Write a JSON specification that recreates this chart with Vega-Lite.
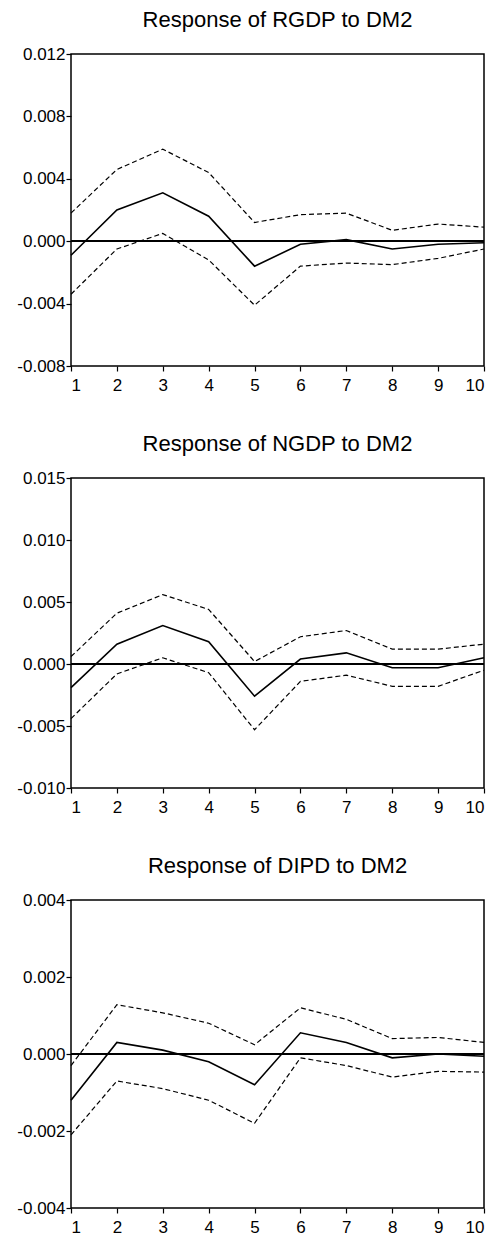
{
  "$schema": "https://vega.github.io/schema/vega-lite/v6.json",
  "padding": {"left": 16, "top": 8, "right": 0, "bottom": 0},
  "spacing": 38,
  "background": "white",
  "config": {
    "font": "Liberation Sans",
    "view": {"stroke": "black", "strokeWidth": 1.5},
    "axis": {
      "grid": false, "domain": false, "ticks": true, "tickColor": "black", "tickSize": 5, "tickWidth": 1.2,
      "labelColor": "black", "labelFontSize": 17, "labelFont": "Liberation Sans", "title": null
    },
    "axisX": {"labelPadding": 6},
    "axisY": {"labelPadding": 1},
    "title": {"fontSize": 22, "fontWeight": "normal", "color": "black", "font": "Liberation Sans", "anchor": "middle", "frame": "group", "offset": 13}
  },
  "datasets": {
    "irf": [
      {"panel": "RGDP", "step": 1, "series": "response", "value": -0.0009},
      {"panel": "RGDP", "step": 2, "series": "response", "value": 0.0020},
      {"panel": "RGDP", "step": 3, "series": "response", "value": 0.0031},
      {"panel": "RGDP", "step": 4, "series": "response", "value": 0.0016},
      {"panel": "RGDP", "step": 5, "series": "response", "value": -0.0016},
      {"panel": "RGDP", "step": 6, "series": "response", "value": -0.0002},
      {"panel": "RGDP", "step": 7, "series": "response", "value": 0.0001},
      {"panel": "RGDP", "step": 8, "series": "response", "value": -0.0005},
      {"panel": "RGDP", "step": 9, "series": "response", "value": -0.0002},
      {"panel": "RGDP", "step": 10, "series": "response", "value": -0.0001},
      {"panel": "RGDP", "step": 1, "series": "upper", "value": 0.0018},
      {"panel": "RGDP", "step": 2, "series": "upper", "value": 0.0046},
      {"panel": "RGDP", "step": 3, "series": "upper", "value": 0.0059},
      {"panel": "RGDP", "step": 4, "series": "upper", "value": 0.0044},
      {"panel": "RGDP", "step": 5, "series": "upper", "value": 0.0012},
      {"panel": "RGDP", "step": 6, "series": "upper", "value": 0.0017},
      {"panel": "RGDP", "step": 7, "series": "upper", "value": 0.0018},
      {"panel": "RGDP", "step": 8, "series": "upper", "value": 0.0007},
      {"panel": "RGDP", "step": 9, "series": "upper", "value": 0.0011},
      {"panel": "RGDP", "step": 10, "series": "upper", "value": 0.0009},
      {"panel": "RGDP", "step": 1, "series": "lower", "value": -0.0034},
      {"panel": "RGDP", "step": 2, "series": "lower", "value": -0.0005},
      {"panel": "RGDP", "step": 3, "series": "lower", "value": 0.0005},
      {"panel": "RGDP", "step": 4, "series": "lower", "value": -0.0012},
      {"panel": "RGDP", "step": 5, "series": "lower", "value": -0.0041},
      {"panel": "RGDP", "step": 6, "series": "lower", "value": -0.0016},
      {"panel": "RGDP", "step": 7, "series": "lower", "value": -0.0014},
      {"panel": "RGDP", "step": 8, "series": "lower", "value": -0.0015},
      {"panel": "RGDP", "step": 9, "series": "lower", "value": -0.0011},
      {"panel": "RGDP", "step": 10, "series": "lower", "value": -0.0005},
      {"panel": "NGDP", "step": 1, "series": "response", "value": -0.0019},
      {"panel": "NGDP", "step": 2, "series": "response", "value": 0.0016},
      {"panel": "NGDP", "step": 3, "series": "response", "value": 0.0031},
      {"panel": "NGDP", "step": 4, "series": "response", "value": 0.0018},
      {"panel": "NGDP", "step": 5, "series": "response", "value": -0.0026},
      {"panel": "NGDP", "step": 6, "series": "response", "value": 0.0004},
      {"panel": "NGDP", "step": 7, "series": "response", "value": 0.0009},
      {"panel": "NGDP", "step": 8, "series": "response", "value": -0.0003},
      {"panel": "NGDP", "step": 9, "series": "response", "value": -0.0003},
      {"panel": "NGDP", "step": 10, "series": "response", "value": 0.0005},
      {"panel": "NGDP", "step": 1, "series": "upper", "value": 0.0006},
      {"panel": "NGDP", "step": 2, "series": "upper", "value": 0.0041},
      {"panel": "NGDP", "step": 3, "series": "upper", "value": 0.0056},
      {"panel": "NGDP", "step": 4, "series": "upper", "value": 0.0044},
      {"panel": "NGDP", "step": 5, "series": "upper", "value": 0.0002},
      {"panel": "NGDP", "step": 6, "series": "upper", "value": 0.0022},
      {"panel": "NGDP", "step": 7, "series": "upper", "value": 0.0027},
      {"panel": "NGDP", "step": 8, "series": "upper", "value": 0.0012},
      {"panel": "NGDP", "step": 9, "series": "upper", "value": 0.0012},
      {"panel": "NGDP", "step": 10, "series": "upper", "value": 0.0016},
      {"panel": "NGDP", "step": 1, "series": "lower", "value": -0.0044},
      {"panel": "NGDP", "step": 2, "series": "lower", "value": -0.0008},
      {"panel": "NGDP", "step": 3, "series": "lower", "value": 0.0005},
      {"panel": "NGDP", "step": 4, "series": "lower", "value": -0.0007},
      {"panel": "NGDP", "step": 5, "series": "lower", "value": -0.0053},
      {"panel": "NGDP", "step": 6, "series": "lower", "value": -0.0014},
      {"panel": "NGDP", "step": 7, "series": "lower", "value": -0.0009},
      {"panel": "NGDP", "step": 8, "series": "lower", "value": -0.0018},
      {"panel": "NGDP", "step": 9, "series": "lower", "value": -0.0018},
      {"panel": "NGDP", "step": 10, "series": "lower", "value": -0.0005},
      {"panel": "DIPD", "step": 1, "series": "response", "value": -0.0012},
      {"panel": "DIPD", "step": 2, "series": "response", "value": 0.0003},
      {"panel": "DIPD", "step": 3, "series": "response", "value": 0.0001},
      {"panel": "DIPD", "step": 4, "series": "response", "value": -0.0002},
      {"panel": "DIPD", "step": 5, "series": "response", "value": -0.0008},
      {"panel": "DIPD", "step": 6, "series": "response", "value": 0.00055},
      {"panel": "DIPD", "step": 7, "series": "response", "value": 0.0003},
      {"panel": "DIPD", "step": 8, "series": "response", "value": -0.0001},
      {"panel": "DIPD", "step": 9, "series": "response", "value": 0.0},
      {"panel": "DIPD", "step": 10, "series": "response", "value": -0.00006},
      {"panel": "DIPD", "step": 1, "series": "upper", "value": -0.0003},
      {"panel": "DIPD", "step": 2, "series": "upper", "value": 0.00128},
      {"panel": "DIPD", "step": 3, "series": "upper", "value": 0.00107},
      {"panel": "DIPD", "step": 4, "series": "upper", "value": 0.0008},
      {"panel": "DIPD", "step": 5, "series": "upper", "value": 0.00024},
      {"panel": "DIPD", "step": 6, "series": "upper", "value": 0.0012},
      {"panel": "DIPD", "step": 7, "series": "upper", "value": 0.0009},
      {"panel": "DIPD", "step": 8, "series": "upper", "value": 0.0004},
      {"panel": "DIPD", "step": 9, "series": "upper", "value": 0.00043},
      {"panel": "DIPD", "step": 10, "series": "upper", "value": 0.0003},
      {"panel": "DIPD", "step": 1, "series": "lower", "value": -0.0021},
      {"panel": "DIPD", "step": 2, "series": "lower", "value": -0.0007},
      {"panel": "DIPD", "step": 3, "series": "lower", "value": -0.0009},
      {"panel": "DIPD", "step": 4, "series": "lower", "value": -0.0012},
      {"panel": "DIPD", "step": 5, "series": "lower", "value": -0.0018},
      {"panel": "DIPD", "step": 6, "series": "lower", "value": -0.0001},
      {"panel": "DIPD", "step": 7, "series": "lower", "value": -0.0003},
      {"panel": "DIPD", "step": 8, "series": "lower", "value": -0.0006},
      {"panel": "DIPD", "step": 9, "series": "lower", "value": -0.00045},
      {"panel": "DIPD", "step": 10, "series": "lower", "value": -0.00047}
    ]
  },
  "vconcat": [
    {
      "title": {"text": "Response of RGDP to DM2"},
      "width": 413, "height": 312,
      "data": {"name": "irf"},
      "transform": [{"filter": "datum.panel === 'RGDP'"}],
      "layer": [
        {"mark": {"type": "rule", "color": "black", "strokeWidth": 1.2},
         "encoding": {"y": {"datum": 0, "type": "quantitative", "scale": {"domain": [-0.008, 0.012], "nice": false, "zero": false},
           "axis": {"values": [-0.008, -0.004, 0, 0.004, 0.008, 0.012], "labelExpr": "replace(format(datum.value, '.3f'), '\u2212', '-')"}}}},
        {"transform": [{"filter": "datum.series !== 'response'"}],
         "mark": {"type": "line", "color": "black", "strokeWidth": 1.2, "strokeDash": [5, 3]},
         "encoding": {
           "x": {"field": "step", "type": "quantitative", "scale": {"domain": [1, 10], "nice": false}, "axis": {"values": [1,2,3,4,5,6,7,8,9,10], "format": "d"}},
           "y": {"field": "value", "type": "quantitative"},
           "detail": {"field": "series"}}},
        {"transform": [{"filter": "datum.series === 'response'"}],
         "mark": {"type": "line", "color": "black", "strokeWidth": 1.6},
         "encoding": {
           "x": {"field": "step", "type": "quantitative"},
           "y": {"field": "value", "type": "quantitative"}}}
      ]
    },
    {
      "title": {"text": "Response of NGDP to DM2"},
      "width": 413, "height": 310,
      "data": {"name": "irf"},
      "transform": [{"filter": "datum.panel === 'NGDP'"}],
      "layer": [
        {"mark": {"type": "rule", "color": "black", "strokeWidth": 1.2},
         "encoding": {"y": {"datum": 0, "type": "quantitative", "scale": {"domain": [-0.010, 0.015], "nice": false, "zero": false},
           "axis": {"values": [-0.010, -0.005, 0, 0.005, 0.010, 0.015], "labelExpr": "replace(format(datum.value, '.3f'), '\u2212', '-')"}}}},
        {"transform": [{"filter": "datum.series !== 'response'"}],
         "mark": {"type": "line", "color": "black", "strokeWidth": 1.2, "strokeDash": [5, 3]},
         "encoding": {
           "x": {"field": "step", "type": "quantitative", "scale": {"domain": [1, 10], "nice": false}, "axis": {"values": [1,2,3,4,5,6,7,8,9,10], "format": "d"}},
           "y": {"field": "value", "type": "quantitative"},
           "detail": {"field": "series"}}},
        {"transform": [{"filter": "datum.series === 'response'"}],
         "mark": {"type": "line", "color": "black", "strokeWidth": 1.6},
         "encoding": {
           "x": {"field": "step", "type": "quantitative"},
           "y": {"field": "value", "type": "quantitative"}}}
      ]
    },
    {
      "title": {"text": "Response of DIPD to DM2"},
      "width": 413, "height": 308,
      "data": {"name": "irf"},
      "transform": [{"filter": "datum.panel === 'DIPD'"}],
      "layer": [
        {"mark": {"type": "rule", "color": "black", "strokeWidth": 1.2},
         "encoding": {"y": {"datum": 0, "type": "quantitative", "scale": {"domain": [-0.004, 0.004], "nice": false, "zero": false},
           "axis": {"values": [-0.004, -0.002, 0, 0.002, 0.004], "labelExpr": "replace(format(datum.value, '.3f'), '\u2212', '-')"}}}},
        {"transform": [{"filter": "datum.series !== 'response'"}],
         "mark": {"type": "line", "color": "black", "strokeWidth": 1.2, "strokeDash": [5, 3]},
         "encoding": {
           "x": {"field": "step", "type": "quantitative", "scale": {"domain": [1, 10], "nice": false}, "axis": {"values": [1,2,3,4,5,6,7,8,9,10], "format": "d"}},
           "y": {"field": "value", "type": "quantitative"},
           "detail": {"field": "series"}}},
        {"transform": [{"filter": "datum.series === 'response'"}],
         "mark": {"type": "line", "color": "black", "strokeWidth": 1.6},
         "encoding": {
           "x": {"field": "step", "type": "quantitative"},
           "y": {"field": "value", "type": "quantitative"}}}
      ]
    }
  ]
}
